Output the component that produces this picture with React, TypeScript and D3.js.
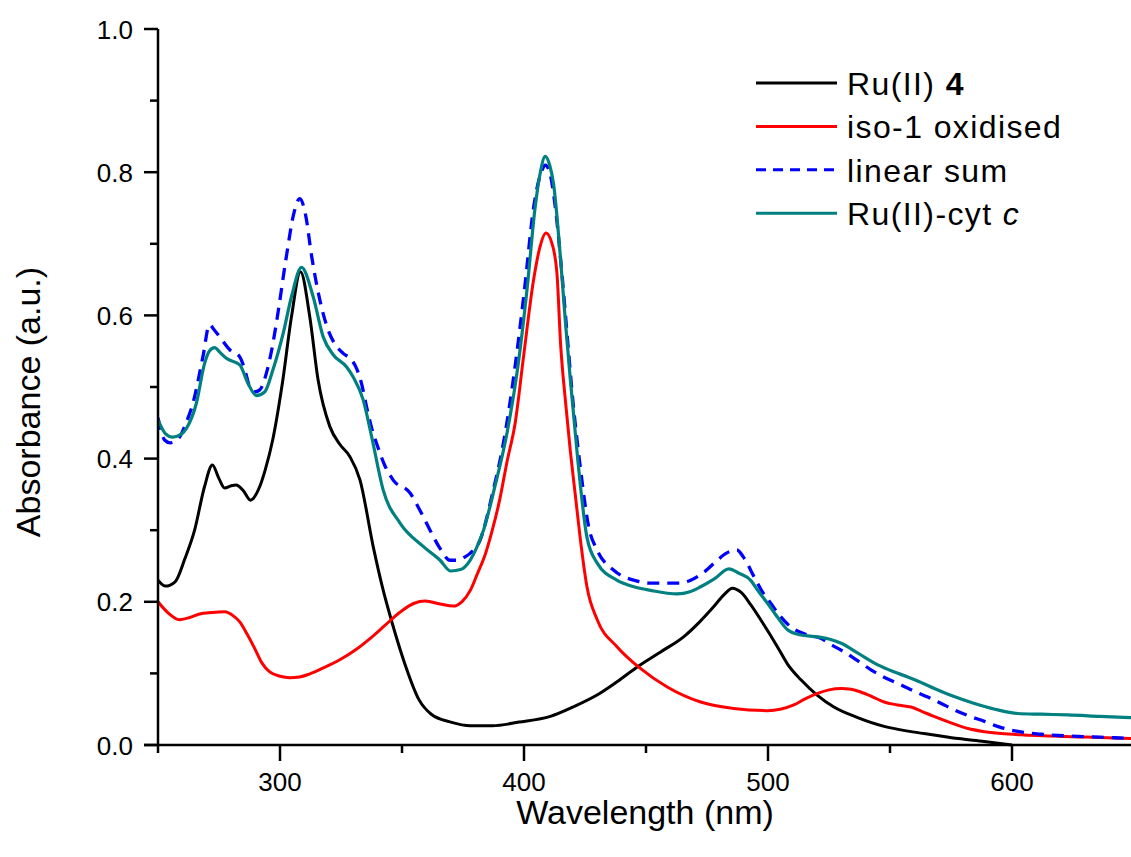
import React from "react";
import * as d3 from "d3";

// ---------- data ----------
const ru4W = [250, 253, 257, 261, 265, 269, 272.3, 275, 277.3, 280, 282, 285, 287.9, 291.7, 294, 297, 301, 304.7, 308.4, 312.2, 315.6, 320.4, 324.5, 328.6, 332.8, 338.2, 342, 346, 351, 357, 362, 370, 378, 387, 398, 410.8, 420, 431, 438, 446.4, 456, 465.4, 472, 477.7, 482, 485.4, 489, 492.9, 497, 503.9, 508, 513.5, 520, 527, 537, 547.6, 558, 568, 578, 588.6, 600];
const ru4A = [0.23, 0.222, 0.228, 0.26, 0.3, 0.36, 0.391, 0.372, 0.359, 0.362, 0.363, 0.355, 0.342, 0.361, 0.385, 0.426, 0.506, 0.598, 0.661, 0.598, 0.51, 0.445, 0.42, 0.403, 0.37, 0.277, 0.22, 0.17, 0.115, 0.063, 0.043, 0.032, 0.027, 0.027, 0.032, 0.04, 0.053, 0.072, 0.088, 0.109, 0.13, 0.151, 0.172, 0.193, 0.21, 0.219, 0.213, 0.196, 0.175, 0.137, 0.113, 0.091, 0.07, 0.053, 0.038, 0.026, 0.019, 0.014, 0.009, 0.005, 0.0];

const isoW = [250, 254, 258.8, 263, 267, 272, 277.3, 281, 283.5, 286.5, 289.6, 292.5, 295.8, 300, 304, 308, 312, 318, 324.5, 331, 337, 343, 349, 355, 359.5, 365.6, 371, 374.5, 378, 381, 384, 387, 390, 393, 396.4, 399.8, 403.9, 406.5, 409, 411.5, 413.5, 415, 417, 419, 421, 423, 425.8, 430, 438.2, 447.7, 458.7, 472.4, 486, 499.8, 505, 510.6, 515, 520.3, 525, 530, 534, 538, 543, 547.6, 553, 558.6, 563, 568, 575, 582, 588, 595.6, 605, 616, 630, 650];
const isoA = [0.2, 0.185, 0.175, 0.178, 0.183, 0.185, 0.186, 0.18, 0.172, 0.155, 0.135, 0.115, 0.102, 0.096, 0.094, 0.095, 0.099, 0.108, 0.119, 0.133, 0.149, 0.167, 0.185, 0.198, 0.201, 0.197, 0.194, 0.2, 0.216, 0.24, 0.265, 0.3, 0.342, 0.395, 0.45, 0.542, 0.649, 0.695, 0.715, 0.7, 0.659, 0.56, 0.48, 0.41, 0.35, 0.29, 0.221, 0.175, 0.137, 0.107, 0.081, 0.06, 0.051, 0.048, 0.05, 0.056, 0.064, 0.072, 0.077, 0.079, 0.078, 0.074, 0.067, 0.06, 0.056, 0.053, 0.047, 0.04, 0.031, 0.023, 0.019, 0.016, 0.014, 0.0126, 0.011, 0.009];

const sumW = [250, 252.7, 255, 258.8, 261.5, 264.3, 268.4, 271.1, 273, 275.3, 279.4, 283.5, 285.5, 287.6, 289.5, 291.7, 294.4, 296.5, 298.5, 302.6, 305.5, 308.1, 310.5, 313, 316.3, 319.7, 322.5, 325.9, 329.3, 331.5, 333.4, 335.5, 338.2, 339.6, 343, 346.4, 353.3, 357, 361.5, 365.5, 369.7, 372.5, 376, 378, 382, 387, 392, 396, 400, 404, 407.4, 408.7, 410.5, 412.8, 415.5, 418, 420, 423, 426.5, 430, 436.8, 446.4, 452, 458.7, 464, 468.3, 474, 479.2, 483, 487.4, 490, 494.3, 497.5, 501.1, 505, 509.3, 515, 521.6, 526, 531.2, 537, 542.2, 548, 554.5, 560, 565.5, 571, 576.4, 582, 588.7, 595, 602.4, 612, 623, 636, 650];
const sumA = [0.457, 0.426, 0.422, 0.43, 0.45, 0.477, 0.542, 0.587, 0.58, 0.57, 0.552, 0.542, 0.525, 0.5, 0.493, 0.496, 0.519, 0.55, 0.589, 0.682, 0.74, 0.763, 0.74, 0.682, 0.622, 0.58, 0.56, 0.547, 0.538, 0.525, 0.505, 0.472, 0.435, 0.421, 0.39, 0.37, 0.352, 0.33, 0.3, 0.275, 0.258, 0.258, 0.263, 0.268, 0.286, 0.35, 0.43, 0.52, 0.63, 0.752, 0.803, 0.81, 0.8, 0.752, 0.66, 0.56, 0.482, 0.39, 0.305, 0.272, 0.244, 0.229, 0.226, 0.226, 0.226, 0.23, 0.242, 0.258, 0.268, 0.272, 0.262, 0.235, 0.215, 0.198, 0.18, 0.165, 0.155, 0.149, 0.14, 0.13, 0.117, 0.105, 0.094, 0.084, 0.075, 0.067, 0.058, 0.049, 0.041, 0.033, 0.025, 0.019, 0.015, 0.0126, 0.011, 0.009];

const cytW = [250, 253, 256, 259, 261.6, 265.7, 269.1, 271, 273.2, 275.5, 278, 283.5, 286.9, 290.3, 293.7, 297.1, 301.3, 304.7, 308.8, 313.6, 317.7, 321.8, 327.3, 330, 334.1, 337.6, 342.3, 349.2, 358.8, 365.6, 370, 374, 377.9, 380.5, 383.4, 388, 393, 397.1, 401.2, 404.6, 406.7, 408.7, 410.5, 412.1, 414.9, 417, 419, 422, 425.8, 430, 438.2, 445, 451.8, 462.8, 468, 472.4, 478, 484, 488, 492.9, 496, 499.8, 504, 508, 513, 520.3, 525, 530, 537, 545, 551, 557.3, 563, 568.2, 576, 584.6, 593, 602.4, 612, 623, 636, 650];
const cytA = [0.454, 0.435, 0.43, 0.433, 0.442, 0.477, 0.533, 0.55, 0.555, 0.548, 0.54, 0.531, 0.505, 0.488, 0.493, 0.524, 0.575, 0.626, 0.667, 0.626, 0.57, 0.545, 0.528, 0.514, 0.482, 0.43, 0.356, 0.31, 0.277, 0.258, 0.243, 0.245, 0.258, 0.275, 0.3, 0.36, 0.435, 0.519, 0.635, 0.752, 0.8, 0.822, 0.81, 0.784, 0.682, 0.59, 0.51, 0.4, 0.29, 0.254, 0.23, 0.221, 0.216, 0.211, 0.214, 0.221, 0.232, 0.246, 0.24, 0.23, 0.215, 0.198, 0.178, 0.161, 0.154, 0.151, 0.148, 0.142, 0.128, 0.112, 0.103, 0.095, 0.087, 0.079, 0.068, 0.058, 0.05, 0.044, 0.043, 0.042, 0.04, 0.038];

const xMajor = [300, 400, 500, 600];
const xMinor = [250, 350, 450, 550, 650];
const yMajor = [0, 0.2, 0.4, 0.6, 0.8, 1.0];
const yMinor = [0.1, 0.3, 0.5, 0.7, 0.9];

const FONT = "'Liberation Sans', Arial, sans-serif";

export default function App() {
  const W = 1131, H = 857;
  const x = d3.scaleLinear().domain([250, 650]).range([158, 1134]);
  const y = d3.scaleLinear().domain([0, 1]).range([745, 29]);
  const line = d3
    .line<[number, number]>()
    .x((d) => x(d[0]))
    .y((d) => y(d[1]))
    .curve(d3.curveMonotoneX);
  const zip = (w: number[], a: number[]) => w.map((v, i) => [v, a[i]] as [number, number]);

  const series = [
    { d: zip(ru4W, ru4A), color: "#000000", dash: undefined, w: 3 },
    { d: zip(isoW, isoA), color: "#ff0000", dash: undefined, w: 3 },
    { d: zip(sumW, sumA), color: "#0000ff", dash: "12,8", w: 3.3 },
    { d: zip(cytW, cytA), color: "#008080", dash: undefined, w: 3.2 },
  ];

  const legend = [
    { color: "#000000", dash: undefined, label: <>Ru(II) <tspan fontWeight="bold">4</tspan></> },
    { color: "#ff0000", dash: undefined, label: <>iso-1 oxidised</> },
    { color: "#0000ff", dash: "10,7", label: <>linear sum</> },
    { color: "#008080", dash: undefined, label: <>Ru(II)-cyt <tspan fontStyle="italic">c</tspan></> },
  ];

  const axisColor = "#000";
  return (
    <svg width={W} height={H} style={{ position: "absolute", left: 0, top: 0, background: "#fff" }} fontFamily={FONT}>
      <defs>
        <clipPath id="plot">
          <rect x={158} y={0} width={W - 158} height={747} />
        </clipPath>
      </defs>
      <g clipPath="url(#plot)">
        {series.map((s, i) => (
          <path key={i} d={line(s.d) || ""} fill="none" stroke={s.color} strokeWidth={s.w} strokeDasharray={s.dash} strokeLinejoin="round" />
        ))}
      </g>
      {/* axes */}
      <line x1={x(250)} x2={x(250)} y1={y(1)} y2={y(0) + 1} stroke={axisColor} strokeWidth={2.5} />
      <line x1={144} x2={W} y1={y(0)} y2={y(0)} stroke={axisColor} strokeWidth={2.5} />
      {yMajor.map((v) => (
        <g key={"ym" + v}>
          <line x1={144} x2={x(250)} y1={y(v)} y2={y(v)} stroke={axisColor} strokeWidth={2.5} />
          <text x={133} y={y(v) + 9.5} textAnchor="end" fontSize={26}>{v.toFixed(1)}</text>
        </g>
      ))}
      {yMinor.map((v) => (
        <line key={"yn" + v} x1={150} x2={x(250)} y1={y(v)} y2={y(v)} stroke={axisColor} strokeWidth={2.5} />
      ))}
      {xMajor.map((v) => (
        <g key={"xm" + v}>
          <line x1={x(v)} x2={x(v)} y1={y(0)} y2={y(0) + 16} stroke={axisColor} strokeWidth={2.5} />
          <text x={x(v)} y={791} textAnchor="middle" fontSize={26}>{v}</text>
        </g>
      ))}
      {xMinor.map((v) => (
        <line key={"xn" + v} x1={x(v)} x2={x(v)} y1={y(0)} y2={y(0) + 8} stroke={axisColor} strokeWidth={2.5} />
      ))}
      <text x={645} y={824} textAnchor="middle" fontSize={34}>Wavelength (nm)</text>
      <text transform="translate(40,402) rotate(-90)" textAnchor="middle" fontSize={34}>Absorbance (a.u.)</text>
      {/* legend */}
      {legend.map((l, i) => {
        const by = 95 + i * 43.4;
        return (
          <g key={"lg" + i}>
            <line x1={756} x2={837} y1={by - 12} y2={by - 12} stroke={l.color} strokeWidth={3} strokeDasharray={l.dash} />
            <text x={847} y={by} fontSize={32} letterSpacing={1.4}>{l.label}</text>
          </g>
        );
      })}
    </svg>
  );
}
